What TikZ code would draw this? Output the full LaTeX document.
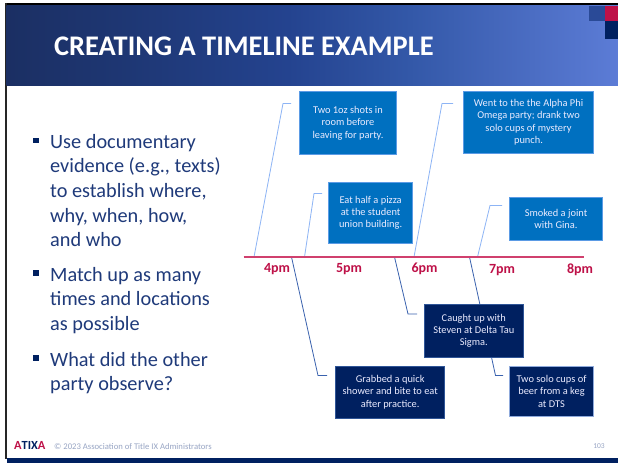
\documentclass[tikz,border=0pt]{standalone}
\usepackage{fontspec}
\setmainfont{Carlito}
\definecolor{hdrA}{HTML}{1B2F63}
\definecolor{hdrB}{HTML}{1E3774}
\definecolor{hdrC}{HTML}{24438F}
\definecolor{hdrD}{HTML}{3358A8}
\definecolor{hdrE}{HTML}{5C7CD6}
\definecolor{crimson}{HTML}{BE1148}
\definecolor{axisred}{HTML}{D0406E}
\definecolor{navybar}{HTML}{002060}
\definecolor{midblue}{HTML}{2A4A97}
\definecolor{boxblue}{HTML}{0070C0}
\definecolor{boxedge}{HTML}{5B9BE5}
\definecolor{darkedge}{HTML}{2F5597}
\definecolor{lightedge}{HTML}{8FAADC}
\definecolor{lightline}{HTML}{8DB4F5}
\definecolor{darkline}{HTML}{3A62AE}
\definecolor{txtbody}{HTML}{1F3A7A}
\definecolor{foot}{HTML}{98A5C4}
\pgfdeclarehorizontalshading{hdrshade}{100bp}{color(0bp)=(hdrA); color(25bp)=(hdrA); color(35bp)=(hdrB); color(48bp)=(hdrC); color(58bp)=(hdrD); color(75bp)=(hdrE); color(100bp)=(hdrE)}
\tikzset{
  evbox/.style={draw, line width=0.9pt, rectangle, inner sep=0pt, align=center, text=white!92!blue,
    font=\fontsize{10.4}{12.4}\selectfont},
  upbox/.style={evbox, fill=boxblue, draw=boxedge},
  downbox/.style={evbox, fill=navybar, draw=darkedge},
  uplink/.style={draw=lightline, line width=0.8pt},
  downlink/.style={draw=darkline, line width=0.8pt},
  axisline/.style={draw=axisred, line width=1.4pt},
  hourlabel/.style={text=crimson, font=\fontsize{14}{15}\selectfont\bfseries, inner sep=0pt},
  bullettext/.style={anchor=north west, inner sep=0pt, align=left, text=txtbody,
    font=\fontsize{20.3}{24.6}\selectfont},
  bulletmark/.style={fill=navybar, minimum size=5.5pt, inner sep=0pt, rectangle}
}
\begin{document}
\begin{tikzpicture}[x=1pt,y=-1pt]
\useasboundingbox (0,0) rectangle (618,463);
\fill[white] (0,0) rectangle (618,463);
% slide frame
\fill[black] (5,3) rectangle (618,6);
\fill[black!85] (5,3) rectangle (7,459);
\shade[shading=hdrshade] (6.5,5.5) rectangle (618,85);
\fill[midblue] (589,5.5) rectangle (605,21);
\fill[crimson] (605,5.5) rectangle (618,21);
\fill[navybar] (605,21) rectangle (618,39);
\fill[navybar] (6.5,458) rectangle (618,463);
\node[anchor=west, inner sep=0pt, text=white, font=\fontsize{28.4}{32}\selectfont\bfseries] (title) at (54,46) {CREATING A TIMELINE EXAMPLE};
% bullets
\node[bulletmark] (m1) at (36,140.7) {};
\node[bulletmark] (m2) at (36,273) {};
\node[bulletmark] (m3) at (36,358) {};
\node[bullettext] (b1) at (50,134) {Use documentary\\evidence (e.g., texts)\\to establish where,\\why, when, how,\\and who};
\node[bullettext] (b2) at (50,267) {Match up as many\\times and locations\\as possible};
\node[bullettext] (b3) at (50,352) {What did the other\\party observe?};
% connector anchors
\coordinate (t0) at (243.5,257);
\coordinate (t1) at (584,257);
\coordinate (u1a) at (254,257); \coordinate (u1b) at (283,103.5); \coordinate (u1c) at (291,103.5);
\coordinate (u2a) at (304.5,257); \coordinate (u2b) at (314,193.5); \coordinate (u2c) at (322,193.5);
\coordinate (u3a) at (414,257); \coordinate (u3b) at (442,103.5); \coordinate (u3c) at (453,103.5);
\coordinate (u4a) at (477.5,257); \coordinate (u4b) at (490,205.5); \coordinate (u4c) at (502,205.5);
\coordinate (d1a) at (291.5,257); \coordinate (d1b) at (318,375.5); \coordinate (d1c) at (327,375.5);
\coordinate (d2a) at (394.5,257); \coordinate (d2b) at (408,314); \coordinate (d2c) at (417,314);
\coordinate (d3a) at (469.5,257); \coordinate (d3b) at (495.5,375.5); \coordinate (d3c) at (503,375.5);
\draw[uplink] (u1a) -- (u1b) -- (u1c);
\draw[uplink] (u2a) -- (u2b) -- (u2c);
\draw[uplink] (u3a) -- (u3b) -- (u3c);
\draw[uplink] (u4a) -- (u4b) -- (u4c);
\draw[downlink] (d1a) -- (d1b) -- (d1c);
\draw[downlink] (d2a) -- (d2b) -- (d2c);
\draw[downlink] (d3a) -- (d3b) -- (d3c);
\draw[axisline] (t0) -- (t1);
% boxes
\node[upbox, minimum width=97.7pt, minimum height=63.4pt] (e1) at (348,123) {Two 1oz shots in\\room before\\leaving for party.};
\node[upbox, minimum width=130.4pt, minimum height=61.7pt] (e2) at (528.5,122.2) {Went to the the Alpha Phi\\Omega party; drank two\\solo cups of mystery\\punch.};
\node[upbox, minimum width=84.2pt, minimum height=61pt] (e3) at (370.6,212.8) {Eat half a pizza\\at the student\\union building.};
\node[upbox, minimum width=93.4pt, minimum height=43.7pt] (e4) at (556,218.9) {Smoked a joint\\with Gina.};
\node[downbox, minimum width=98.3pt, minimum height=53pt] (e5) at (473.8,330.8) {Caught up with\\Steven at Delta Tau\\Sigma.};
\node[downbox, minimum width=109pt, minimum height=52.3pt] (e6) at (390.2,392.2) {Grabbed a quick\\shower and bite to eat\\after practice.};
\node[downbox, draw=lightedge, minimum width=84.4pt, minimum height=50.3pt] (e7) at (551.5,391.2) {Two solo cups of\\beer from a keg\\at DTS};
% hours
\node[hourlabel] (h4) at (277,269) {4pm};
\node[hourlabel] (h5) at (349,269) {5pm};
\node[hourlabel] (h6) at (424.6,269) {6pm};
\node[hourlabel] (h7) at (502,270) {7pm};
\node[hourlabel] (h8) at (580,270) {8pm};
% footer
\node[anchor=west, inner sep=0pt, font=\fontsize{12.4}{13}\selectfont\bfseries, text=crimson] (logo) at (14,445.5) {A\textcolor{navybar}{TIX}A};
\node[anchor=west, inner sep=0pt, text=foot, font=\fontsize{8.66}{10}\selectfont] (copy) at (54,447) {© 2023 Association of Title IX Administrators};
\node[inner sep=0pt, text=foot, font=\fontsize{7.5}{9}\selectfont] (pg) at (599,446) {103};
\end{tikzpicture}
\end{document}
